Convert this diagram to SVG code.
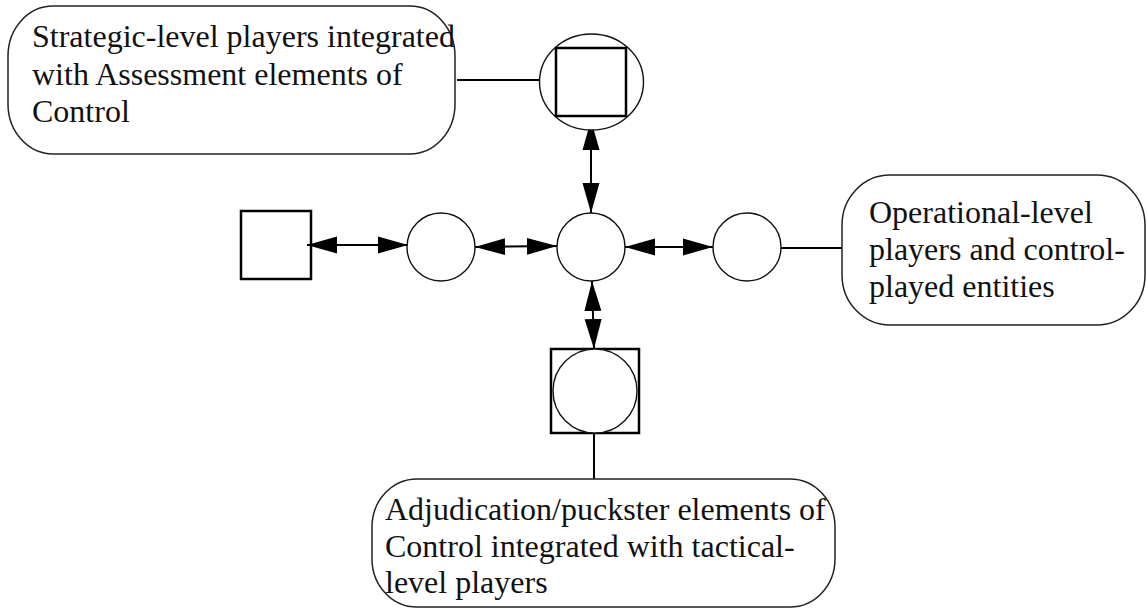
<svg xmlns="http://www.w3.org/2000/svg" width="1147" height="608" viewBox="0 0 1147 608">
<style>
.callout{fill:#fff;stroke:#222;stroke-width:1.5}
.circ{fill:#fff;stroke:#111;stroke-width:1.4}
.sq{fill:none;stroke:#000;stroke-width:2.5}
.lbl{font-family:"Liberation Serif","Times New Roman",serif;font-size:32px;fill:#111}
.conn{stroke:#000;stroke-width:2;fill:none}
.arr{marker-start:url(#ah);marker-end:url(#ah)}
</style>
<defs>
<marker id="ah" markerUnits="userSpaceOnUse" markerWidth="30" markerHeight="18" refX="30" refY="8.5" orient="auto-start-reverse" viewBox="0 0 30 17">
<path d="M0,0 L30,8.5 L0,17 Z" fill="#000"/>
</marker>
</defs>
<rect width="1147" height="608" fill="#fff"/>
<g id="connectors">
<line class="conn" x1="457" y1="80" x2="539" y2="80"/>
<line class="conn arr" x1="591" y1="120" x2="591" y2="213"/>
<line class="conn arr" x1="307" y1="245" x2="408" y2="245"/>
<line class="conn arr" x1="475" y1="247" x2="557" y2="246"/>
<line class="conn arr" x1="625" y1="247" x2="713" y2="247"/>
<line class="conn" x1="781" y1="248" x2="842" y2="248"/>
<line class="conn arr" x1="592" y1="281" x2="594" y2="349"/>
<line class="conn" x1="594" y1="433" x2="594" y2="479"/>
</g>
<g id="node-strategic-callout">
<rect class="callout" x="8" y="6" width="447" height="148" rx="45" ry="50"/>
<text class="lbl" x="32" y="47">Strategic-level players integrated</text>
<text class="lbl" x="32" y="85">with Assessment elements of</text>
<text class="lbl" x="32" y="122">Control</text>
</g>
<g id="node-top">
<ellipse class="circ" cx="591.5" cy="82" rx="52" ry="48"/>
<rect class="sq" x="556" y="48" width="70" height="68"/>
</g>
<g id="node-left-square">
<rect class="sq" x="241" y="211" width="70" height="68"/>
</g>
<g id="node-left-circle">
<circle class="circ" cx="441" cy="247" r="34"/>
</g>
<g id="node-center">
<circle class="circ" cx="591" cy="247" r="34"/>
</g>
<g id="node-right-circle">
<circle class="circ" cx="747" cy="247" r="34"/>
</g>
<g id="node-operational-callout">
<rect class="callout" x="842" y="175" width="303" height="150" rx="48" ry="50"/>
<text class="lbl" x="869" y="223">Operational-level</text>
<text class="lbl" x="869" y="260">players and control-</text>
<text class="lbl" x="869" y="297">played entities</text>
</g>
<g id="node-bottom">
<rect class="sq" x="551" y="349" width="88" height="84"/>
<circle class="circ" cx="595" cy="391" r="42"/>
</g>
<g id="node-adjudication-callout">
<rect class="callout" x="372" y="479" width="463" height="128" rx="45" ry="48"/>
<text class="lbl" x="385" y="520">Adjudication/puckster elements of</text>
<text class="lbl" x="385" y="557">Control integrated with tactical-</text>
<text class="lbl" x="385" y="593">level players</text>
</g>
</svg>
